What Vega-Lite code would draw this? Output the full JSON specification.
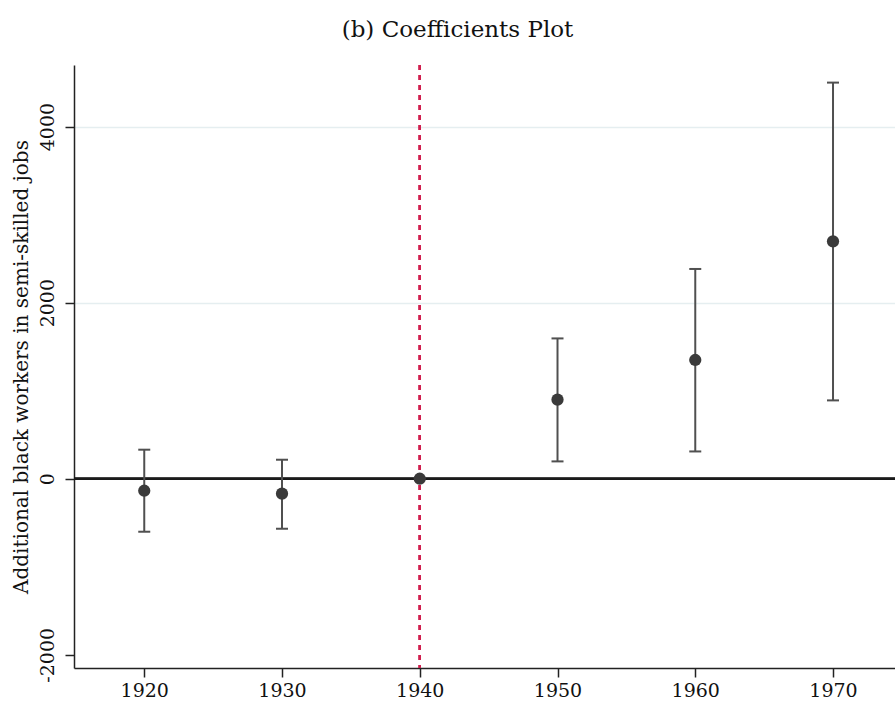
{
  "$schema": "https://vega.github.io/schema/vega-lite/v6.json",
  "autosize": "none",
  "width": 821,
  "height": 603,
  "padding": {"left": 74, "top": 65, "right": 0, "bottom": 34},
  "background": "white",
  "config": {
    "font": "DejaVu Serif",
    "view": {"stroke": null},
    "axis": {"labelFont": "DejaVu Serif", "titleFont": "DejaVu Serif", "labelFontSize": 19, "titleFontSize": 20, "titleFontWeight": "normal", "labelColor": "#111", "titleColor": "#111", "domainColor": "#222", "domainWidth": 1.5, "tickColor": "#222", "tickWidth": 1.5, "tickSize": 9}
  },
  "title": {"text": "(b) Coefficients Plot", "font": "DejaVu Serif", "fontSize": 23, "fontWeight": "normal", "color": "#111", "offset": 22, "dx": -27},
  "data": {"values": [
    {"year": 1920, "coef": -136, "lo": -602, "hi": 330},
    {"year": 1930, "coef": -170, "lo": -568, "hi": 216},
    {"year": 1940, "coef": 0, "lo": null, "hi": null},
    {"year": 1950, "coef": 898, "lo": 197, "hi": 1594},
    {"year": 1960, "coef": 1349, "lo": 310, "hi": 2383},
    {"year": 1970, "coef": 2697, "lo": 890, "hi": 4500}
  ]},
  "encoding": {
    "x": {"field": "year", "type": "quantitative", "scale": {"domain": [1914.9, 1974.5], "nice": false, "zero": false},
      "axis": {"values": [1920, 1930, 1940, 1950, 1960, 1970], "format": "d", "title": null, "grid": false, "labelPadding": 4}}
  },
  "layer": [
    {
      "mark": {"type": "rule", "color": "#1a1a1a", "strokeWidth": 2},
      "encoding": {"y": {"datum": 0, "type": "quantitative", "scale": {"domain": [-2150, 4700], "nice": false, "zero": false},
        "axis": {"values": [-2000, 0, 2000, 4000], "labelExpr": "'' + datum.value", "title": "Additional black workers in semi-skilled jobs", "labelAngle": -90, "labelAlign": "center", "labelBaseline": "bottom", "labelPadding": 8, "titlePadding": 7,
          "grid": true, "gridColor": {"condition": {"test": "datum.value >= 2000", "value": "#e5eef0"}, "value": "transparent"}, "gridWidth": 1.5}},
        "x": {"value": 0}, "x2": {"value": 821}}
    },
    {
      "mark": {"type": "rule", "color": "#d11f4f", "strokeWidth": 2, "strokeDash": [5, 5]},
      "encoding": {"x": {"datum": 1940, "type": "quantitative"}}
    },
    {
      "transform": [{"filter": "datum.lo != null"}],
      "mark": {"type": "rule", "color": "#505050", "strokeWidth": 2},
      "encoding": {"y": {"field": "lo", "type": "quantitative"}, "y2": {"field": "hi"}}
    },
    {
      "transform": [{"filter": "datum.lo != null"}],
      "mark": {"type": "tick", "orient": "horizontal", "color": "#505050", "size": 12, "thickness": 2, "opacity": 1},
      "encoding": {"y": {"field": "lo", "type": "quantitative"}}
    },
    {
      "transform": [{"filter": "datum.lo != null"}],
      "mark": {"type": "tick", "orient": "horizontal", "color": "#505050", "size": 12, "thickness": 2, "opacity": 1},
      "encoding": {"y": {"field": "hi", "type": "quantitative"}}
    },
    {
      "mark": {"type": "point", "filled": true, "opacity": 1, "color": "#3a3a3a", "size": 150},
      "encoding": {"y": {"field": "coef", "type": "quantitative"}}
    }
  ]
}
